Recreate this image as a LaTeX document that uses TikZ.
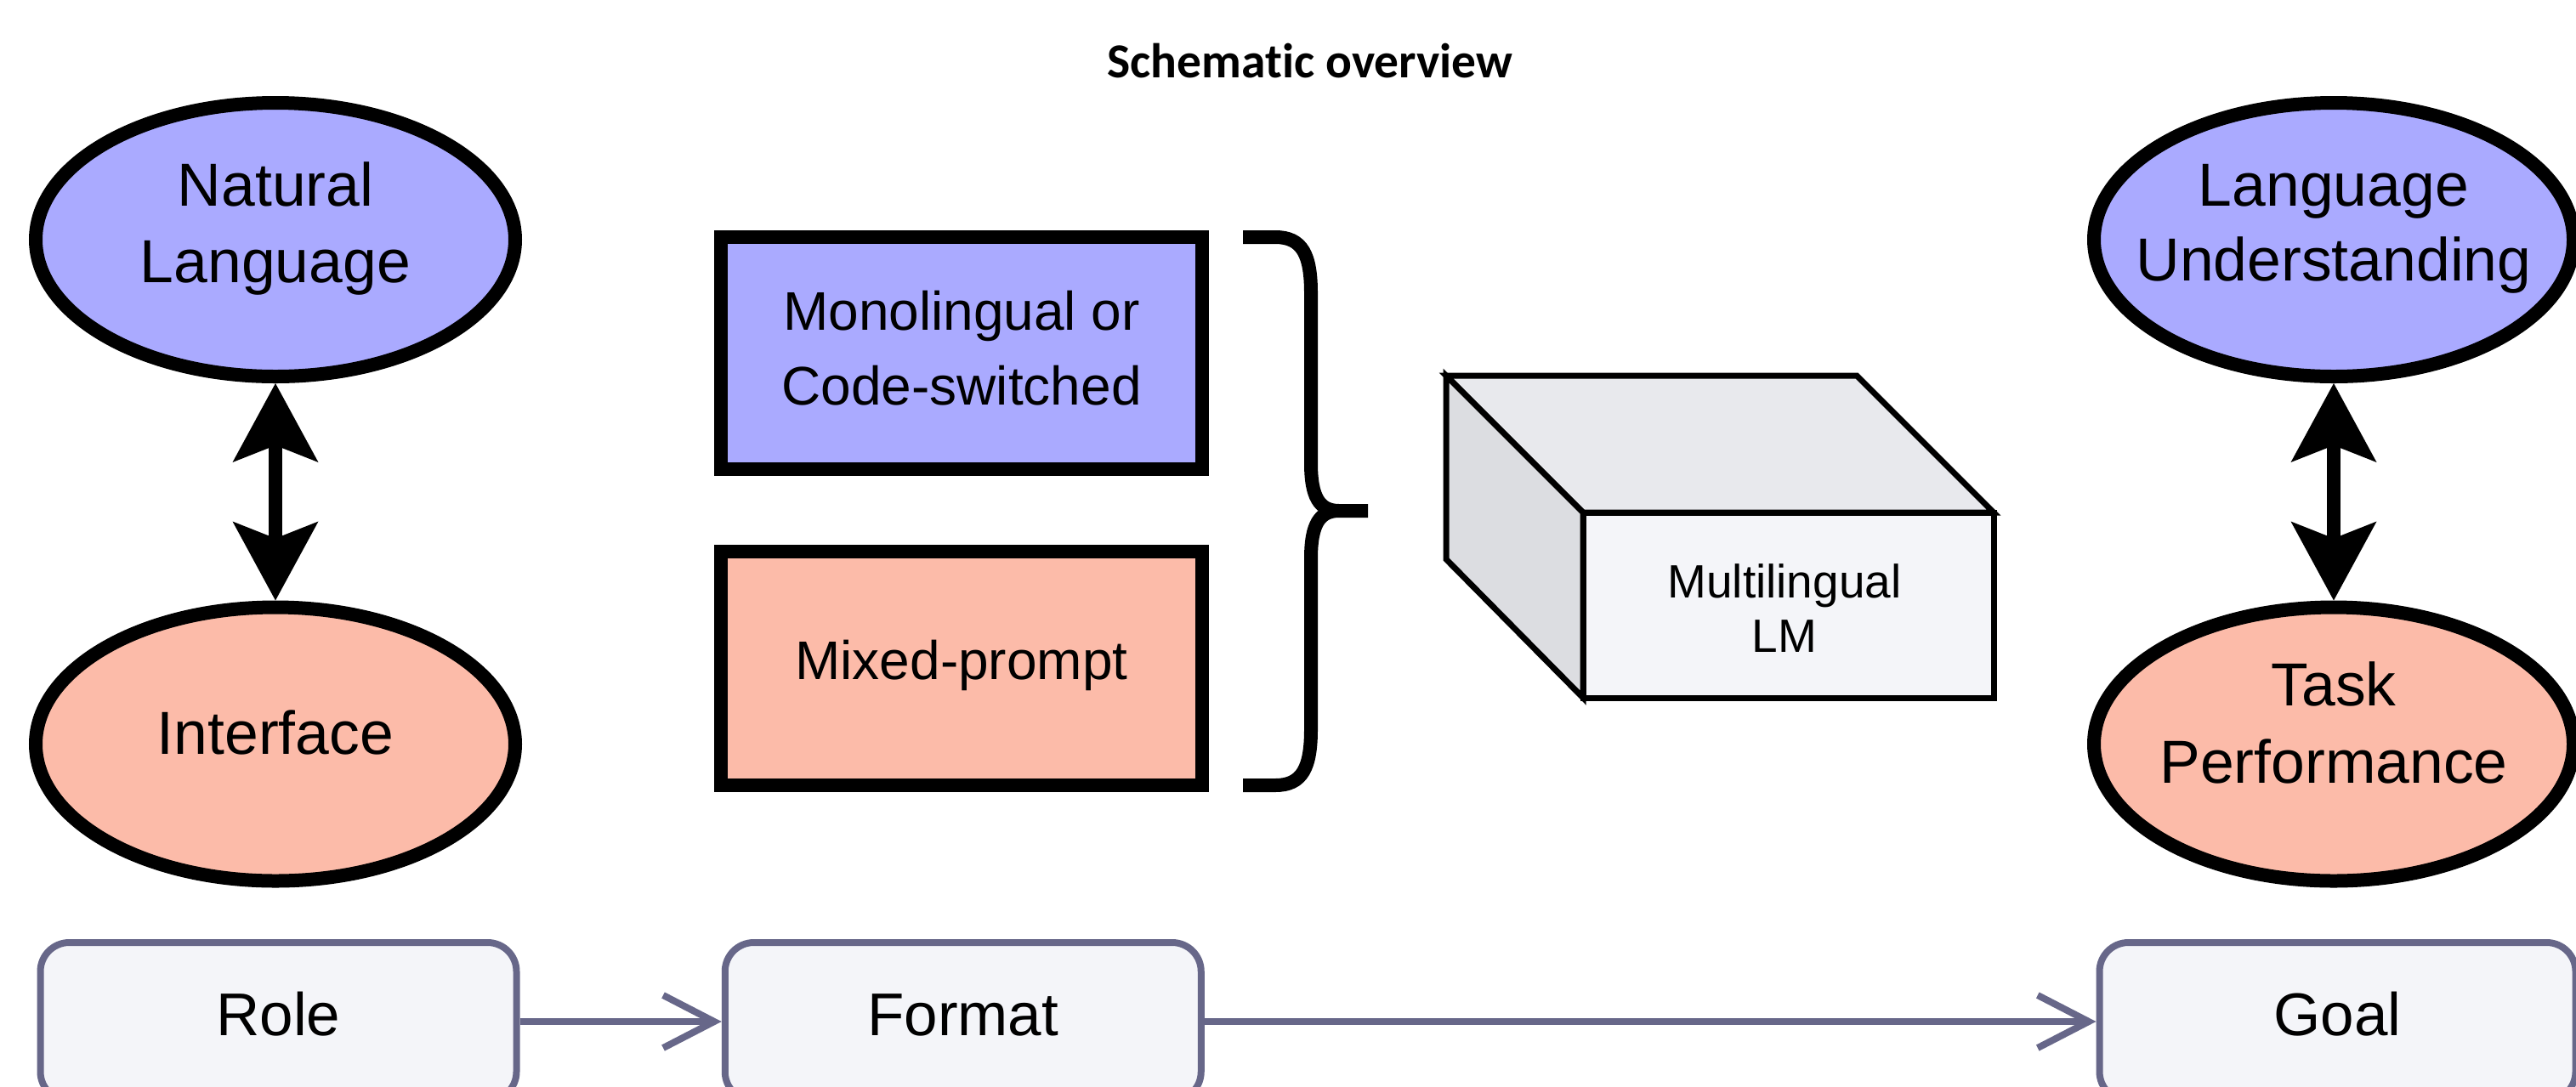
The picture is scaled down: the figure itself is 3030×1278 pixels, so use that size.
\documentclass[tikz,border=0pt]{standalone}
\usepackage{fontspec}
\setmainfont{Liberation Sans}
\newfontfamily\headfont[Ligatures=NoCommon]{Carlito}
\usetikzlibrary{arrows.meta,shapes.geometric,calc}
\definecolor{langblue}{HTML}{AAAAFF}
\definecolor{perfsalmon}{HTML}{FCBBA9}
\definecolor{facefront}{HTML}{F4F5F9}
\definecolor{facetop}{HTML}{E8E9ED}
\definecolor{faceside}{HTML}{DCDDE1}
\definecolor{flowedge}{HTML}{676789}
\begin{document}
\begin{tikzpicture}[x=1pt,y=-1pt,
  conceptell/.style={ellipse, draw=black, line width=16pt, minimum width=564pt, minimum height=322pt, inner sep=0pt},
  formatbox/.style={rectangle, draw=black, line width=16pt, minimum width=566pt, inner sep=0pt},
  biglabel/.style={font=\fontsize{71.5}{86}\selectfont, inner sep=0pt, anchor=base},
  midlabel/.style={font=\fontsize{64}{77}\selectfont, inner sep=0pt, anchor=base},
  lmlabel/.style={font=\fontsize{55}{66}\selectfont, inner sep=0pt, anchor=base},
  stagebox/.style={rectangle, rounded corners=34pt, draw=flowedge, fill=facefront, line width=8pt, minimum width=560pt, minimum height=186pt, inner sep=0pt, font=\fontsize{71}{85}\selectfont, text height=52pt, text depth=20pt},
  linkarrow/.style={line width=16pt, {Stealth[length=93pt,width=101pt,inset=20pt,line width=0pt]}-{Stealth[length=93pt,width=101pt,inset=20pt,line width=0pt]}},
  flowarrow/.style={draw=flowedge, line width=8pt, -{Straight Barb[sharp,length=60pt,width=62pt]}},
]
\useasboundingbox (0,0) rectangle (3030,1278);
\clip (0,0) rectangle (3030,1278);
\fill[white] (0,0) rectangle (3030,1278);

% title
\node[font=\headfont\bfseries\fontsize{57.5}{69}\selectfont, anchor=base, inner sep=0pt] (ttl) at (1541,91) {Schematic overview};

% role column
\node[conceptell, fill=langblue] (nl) at (324,282) {};
\node[biglabel] (nlA) at (324,242) {Natural};
\node[biglabel] (nlB) at (324,332) {Language};
\node[conceptell, fill=perfsalmon, font=\fontsize{71.5}{86}\selectfont, text height=52pt, text depth=29pt] (intf) at (324,875.5) {Interface};
\draw[linkarrow] (nl.south) -- (intf.north);

% format column
\node[formatbox, fill=langblue, minimum height=273pt] (mono) at (1131,415.5) {};
\node[midlabel] (monoA) at (1131,388) {Monolingual or};
\node[midlabel] (monoB) at (1131,476) {Code-switched};
\node[formatbox, fill=perfsalmon, minimum height=275pt, font=\fontsize{64}{77}\selectfont, text height=47pt, text depth=22pt] (mixp) at (1131,786.5) {Mixed-prompt};

% curly brace joining both formats
\coordinate (brtop) at (1462,279);
\coordinate (brbot) at (1462,924);
\coordinate (brtip) at (1609,601);
\draw[line width=16pt, line cap=butt]
  (brtop) -- (1500,279) .. controls (1532,279) and (1542,300) .. (1542,345)
  -- (1542,545) .. controls (1542,585) and (1552,601) .. (1575,601) -- (brtip)
  (1575,601) .. controls (1552,601) and (1542,617) .. (1542,657)
  -- (1542,858) .. controls (1542,903) and (1532,924) .. (1500,924) -- (brbot);

% language model block
\node[rectangle, draw=black, fill=facefront, line width=7pt, minimum width=483pt, minimum height=218pt, inner sep=0pt, outer sep=0pt] (lm) at (2103.5,712) {};
\filldraw[fill=facetop, line width=7pt, line join=miter]
  (lm.north west) -- ++(-161,-161) -- ++(483,0) -- (lm.north east) -- cycle;
\filldraw[fill=faceside, line width=7pt, line join=miter]
  (lm.north west) -- ++(-161,-161) -- ++(0,216) -- (lm.south west) -- cycle;
\node[lmlabel] (lmA) at (2099,703) {Multilingual};
\node[lmlabel] (lmB) at (2099,767) {LM};

% goal column
\node[conceptell, fill=langblue] (lu) at (2745,282) {};
\node[biglabel] (luA) at (2745,242) {Language};
\node[biglabel] (luB) at (2745,330) {Understanding};
\node[conceptell, fill=perfsalmon] (tp) at (2745,875.5) {};
\node[biglabel] (tpA) at (2745,830) {Task};
\node[biglabel] (tpB) at (2745,921) {Performance};
\draw[linkarrow] (lu.south) -- (tp.north);

% bottom flow
\node[stagebox] (role) at (327.5,1202) {Role};
\node[stagebox] (fmt) at (1132.75,1202) {Format};
\node[stagebox] (goal) at (2749.5,1202) {Goal};
\draw[flowarrow] (role) -- (fmt);
\draw[flowarrow] (fmt) -- (goal);
\end{tikzpicture}
\end{document}
